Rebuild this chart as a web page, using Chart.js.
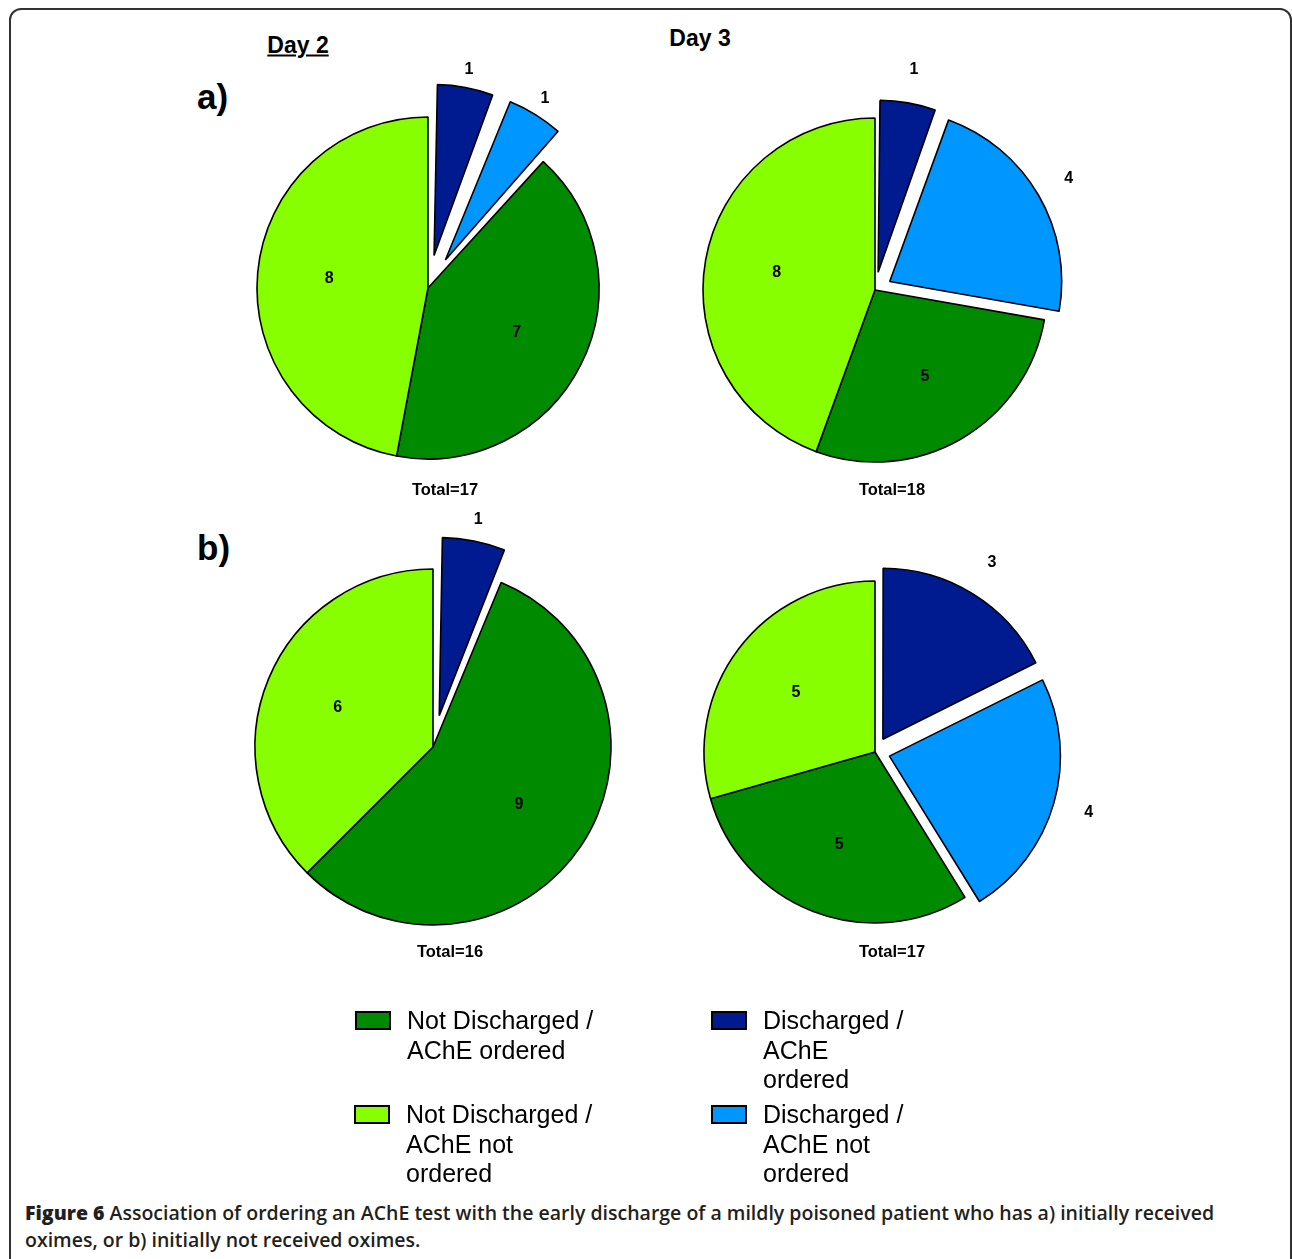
<!DOCTYPE html>
<html>
<head>
<meta charset="utf-8">
<script src="https://cdn.jsdelivr.net/npm/chart.js@4.4.0/dist/chart.umd.min.js"></script>
<style>
  body { margin: 0; background: #fff; width: 1292px; height: 1259px; overflow: hidden; position: relative;
         font-family: "Liberation Sans", Arial, sans-serif; color: #000; }
  .frame { position: absolute; left: 9px; top: 8px; width: 1283px; height: 1262px; box-sizing: border-box;
           border: 2px solid #333; border-radius: 12px; }
  .pie { position: absolute; }
  .txt { position: absolute; transform: translate(-50%, -50%); font-weight: bold; white-space: nowrap; }
  .day { font-size: 23px; }
  .part { font-size: 35px; transform: none; }
  .total { font-size: 16.5px; }
  .leg { position: absolute; display: flex; align-items: flex-start; }
  .leg .box { width: 32px; height: 15px; border: 2px solid #000; margin-top: 5px; margin-right: 16px; flex: none; }
  .leg .lab { font-size: 25px; line-height: 29.5px; }
  .caption { position: absolute; left: 25px; top: 1199px; font-family: "Open Sans", sans-serif; font-weight: 600;
             font-size: 19.5px; line-height: 27px; color: #231f20; white-space: nowrap; }
  .caption b { font-weight: 800; }
</style>
</head>
<body>
<div class="frame"></div>

<div class="txt day" style="left:298px; top:45px; text-decoration:underline;">Day 2</div>
<div class="txt day" style="left:700px; top:38px;">Day 3</div>
<div class="txt part" style="left:197px; top:77px;">a)</div>
<div class="txt part" style="left:197px; top:528px;">b)</div>

<canvas id="pieA2" class="pie" width="520" height="520"></canvas>
<canvas id="pieA3" class="pie" width="520" height="520"></canvas>
<canvas id="pieB2" class="pie" width="520" height="520"></canvas>
<canvas id="pieB3" class="pie" width="520" height="520"></canvas>

<div id="legend"></div>

<div class="caption"><b>Figure 6</b> Association of ordering an AChE test with the early discharge of a mildly poisoned patient who has a) initially received<br>oximes, or b) initially not received oximes.</div>

<script>
// 類別（由 12 點鐘方向順時針）
const categories = [
  "Discharged / AChE ordered",
  "Discharged / AChE not ordered",
  "Not Discharged / AChE ordered",
  "Not Discharged / AChE not ordered",
];
const sliceColors = ["#001a8f", "#0096ff", "#008a00", "#88ff00"];

// 各圓餅圖的人數
const valuesA2 = [1, 1, 7, 8];
const valuesA3 = [1, 4, 5, 8];
const valuesB2 = [1, 0, 9, 6];
const valuesB3 = [3, 4, 5, 5];

// 藍色區塊的數字標在外面
const labelOutside = [true, true, false, false];

// 圖例排列順序（左欄、右欄）
const legendOrder = [2, 0, 3, 1];

// Chart.js v4 拉出的扇形會順便變大，這裡把半徑扣回來
const keepRadius = {
  id: "keepRadius",
  beforeDatasetDraw(chart, args) {
    args.meta.data.forEach((arc) => {
      const off = (arc.options.offset || 0) / 4;
      const fix = 1 - Math.sin(Math.min(Math.PI, arc.circumference || 0));
      arc._savedRadius = arc.outerRadius;
      arc.outerRadius = arc.outerRadius - off * fix;
    });
  },
  afterDatasetDraw(chart, args) {
    args.meta.data.forEach((arc) => {
      arc.outerRadius = arc._savedRadius;
    });
  },
};

const sliceLabels = {
  id: "sliceLabels",
  afterDatasetsDraw(chart) {
    const ctx = chart.ctx;
    const meta = chart.getDatasetMeta(0);
    const data = chart.data.datasets[0].data;
    ctx.save();
    ctx.font = "bold 16px 'Liberation Sans', Arial, sans-serif";
    ctx.fillStyle = "#000";
    ctx.textAlign = "center";
    ctx.textBaseline = "middle";
    meta.data.forEach((arc, i) => {
      if (!data[i]) return;
      const p = arc.getProps(["x", "y", "startAngle", "endAngle", "outerRadius"], true);
      const mid = (p.startAngle + p.endAngle) / 2;
      const d = p.outerRadius * (labelOutside[i] ? 1.3 : 0.58);
      ctx.fillText(String(data[i]), p.x + Math.cos(mid) * d, p.y + Math.sin(mid) * d);
    });
    ctx.restore();
  },
};

function drawPie(id, values, cx, cy, radius, offsets, totalY) {
  const canvas = document.getElementById(id);
  canvas.style.left = cx - canvas.width / 2 + "px";
  canvas.style.top = cy - canvas.height / 2 + "px";

  new Chart(canvas.getContext("2d"), {
    type: "pie",
    data: {
      labels: categories,
      datasets: [
        {
          data: values,
          backgroundColor: sliceColors,
          borderColor: "#000",
          borderWidth: (c) => (c.raw ? 1.6 : 0),
          offset: offsets, // v4 畫的位移是 offset / 4
        },
      ],
    },
    options: {
      responsive: false,
      animation: false,
      events: [],
      radius: radius,
      layout: { padding: 0 },
      plugins: { legend: { display: false }, tooltip: { enabled: false } },
    },
    plugins: [keepRadius, sliceLabels],
  });

  const total = values.reduce((a, b) => a + b, 0);
  const t = document.createElement("div");
  t.className = "txt total";
  t.style.left = cx + 17 + "px";
  t.style.top = totalY + "px";
  t.textContent = "Total=" + total;
  document.body.appendChild(t);
}

drawPie("pieA2", valuesA2, 428, 288, 171, [132, 132, 0, 0], 489);
drawPie("pieA3", valuesA3, 875, 290, 172, [72, 68, 0, 0], 489);
drawPie("pieB2", valuesB2, 433, 747, 178, [128, 0, 0, 0], 951);
drawPie("pieB3", valuesB3, 875, 752, 171, [60, 60, 0, 0], 951);

// 圖例
const legend = document.getElementById("legend");
const legendPos = [
  [355, 1006, 192],
  [711, 1006, 148],
  [354, 1100, 192],
  [711, 1100, 148],
];
legendOrder.forEach((idx, k) => {
  const [x, y, w] = legendPos[k];
  const item = document.createElement("div");
  item.className = "leg";
  item.style.left = x + "px";
  item.style.top = y + "px";
  item.innerHTML =
    `<div class="box" style="background:${sliceColors[idx]}"></div>` +
    `<div class="lab" style="width:${w}px">${categories[idx]}</div>`;
  legend.appendChild(item);
});
</script>
</body>
</html>
